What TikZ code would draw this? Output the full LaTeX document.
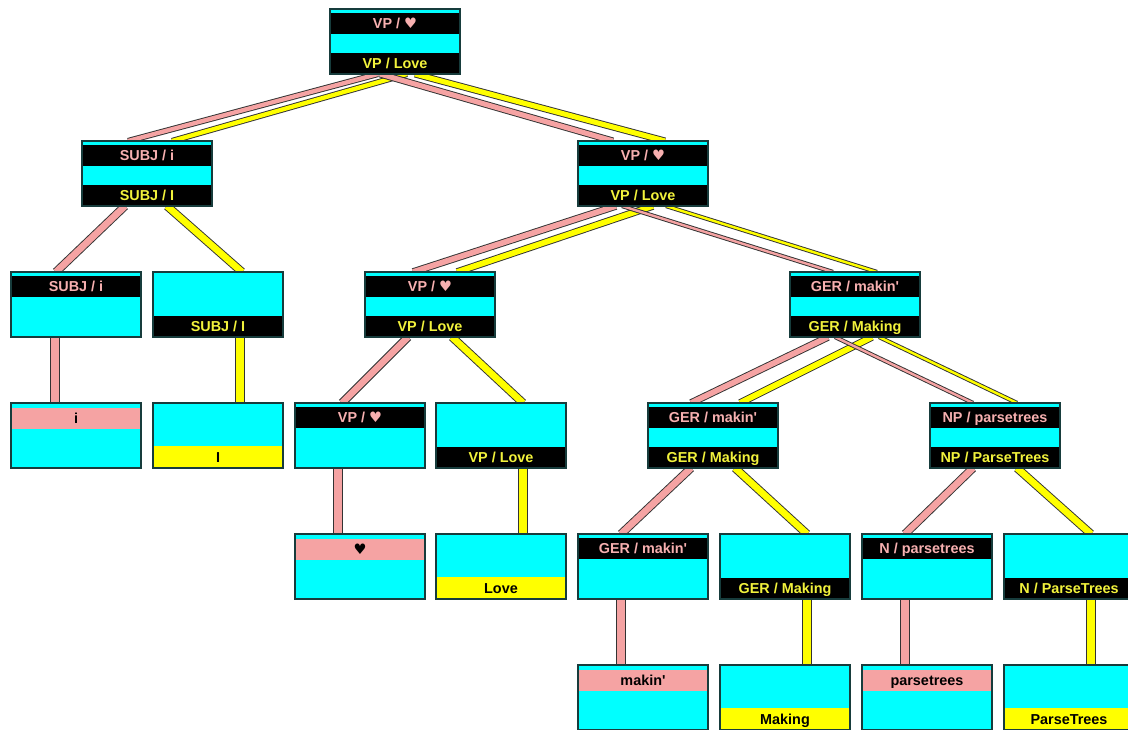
\documentclass[tikz,border=0pt]{standalone}
\usepackage{fontspec}
\setmainfont{Liberation Sans}
\newfontfamily\symfont{DejaVu Sans}
\usetikzlibrary{calc,backgrounds}

\definecolor{boxcyan}{HTML}{00FFFF}
\definecolor{bandpink}{HTML}{F5A3A3}
\definecolor{bandyellow}{HTML}{FFFF00}
\definecolor{txtpink}{HTML}{F7B0B0}
\definecolor{txtyellow}{HTML}{F2F23C}
\definecolor{edgecol}{HTML}{173C3C}
\definecolor{wirecol}{HTML}{333333}

\tikzset{
  boxbase/.style={rectangle, fill=boxcyan, minimum width=97.5pt, minimum height=48.75pt,
    inner sep=0pt, outer sep=0pt, anchor=north west},
  boxedge/.style={draw=edgecol, line width=0.9pt},
  lbl/.style={inner sep=0pt, text height=7.8pt, text depth=0pt,
    font=\fontsize{10.8pt}{12pt}\selectfont\bfseries},
  wirepink/.style={draw=wirecol, line width=0.7pt, double=bandpink, double distance=#1},
  wirepink/.default=3pt,
  wireyellow/.style={draw=wirecol, line width=0.7pt, double=bandyellow, double distance=#1},
  wireyellow/.default=3pt,
}

\newcommand\heart{{\symfont\bfseries ♥}}
% a cyan box with its name
\newcommand\mkbox[3]{\node[boxbase] (#1) at (#2,#3) {};}
% black band at the top, pink label
\newcommand\bandTop[2]{%
  \fill[black] ($(#1.north west)+(0,4)$) rectangle ($(#1.north east)+(0,25)$);
  \node[lbl, text=txtpink] (#1-up) at ($(#1.north)+(0,14.5)$) {#2};}
% black band at the bottom, yellow label
\newcommand\bandBot[2]{%
  \fill[black] ($(#1.south west)+(0,-21)$) rectangle (#1.south east);
  \node[lbl, text=txtyellow] (#1-down) at ($(#1.south)+(0,-10.5)$) {#2};}
% pink leaf band near the top
\newcommand\leafPink[2]{%
  \fill[bandpink] ($(#1.north west)+(0,5)$) rectangle ($(#1.north east)+(0,26)$);
  \node[lbl, text=black] (#1-up) at ($(#1.north)+(0,15.5)$) {#2};}
% yellow leaf band at the bottom
\newcommand\leafYellow[2]{%
  \fill[bandyellow] ($(#1.south west)+(0,-22)$) rectangle (#1.south east);
  \node[lbl, text=black] (#1-down) at ($(#1.south)+(0,-11)$) {#2};}
\newcommand\frameBox[1]{\draw[boxedge] (#1.north west) rectangle (#1.south east);}

\begin{document}
\begin{tikzpicture}[x=0.75pt, y=-0.75pt]
\path[use as bounding box] (0,0) rectangle (1128,730);
\clip (0,0) rectangle (1128,730);

% ---- boxes ----
\mkbox{top}{330}{9}
\mkbox{subjA}{82}{141}
\mkbox{vpA}{578}{141}
\mkbox{subjB}{11}{272}
\mkbox{subjC}{153}{272}
\mkbox{vpB}{365}{272}
\mkbox{gerB}{790}{272}
\mkbox{lfi}{11}{403}
\mkbox{lfI}{153}{403}
\mkbox{vpC}{295}{403}
\mkbox{vpD}{436}{403}
\mkbox{gerC}{648}{403}
\mkbox{npC}{930}{403}
\mkbox{lfheart}{295}{534}
\mkbox{lflove}{436}{534}
\mkbox{gerD}{578}{534}
\mkbox{gerE}{720}{534}
\mkbox{nD}{862}{534}
\mkbox{nE}{1004}{534}
\mkbox{lfmakin}{578}{665}
\mkbox{lfmaking}{720}{665}
\mkbox{lfparse}{862}{665}
\mkbox{lfParse}{1004}{665}

% ---- bands and labels ----
\bandTop{top}{VP / \heart}\bandBot{top}{VP / Love}
\bandTop{subjA}{SUBJ / i}\bandBot{subjA}{SUBJ / I}
\bandTop{vpA}{VP / \heart}\bandBot{vpA}{VP / Love}
\bandTop{subjB}{SUBJ / i}
\bandBot{subjC}{SUBJ / I}
\bandTop{vpB}{VP / \heart}\bandBot{vpB}{VP / Love}
\bandTop{gerB}{GER / makin\textquotesingle}\bandBot{gerB}{GER / Making}
\leafPink{lfi}{i}
\leafYellow{lfI}{I}
\bandTop{vpC}{VP / \heart}
\bandBot{vpD}{VP / Love}
\bandTop{gerC}{GER / makin\textquotesingle}\bandBot{gerC}{GER / Making}
\bandTop{npC}{NP / parsetrees}\bandBot{npC}{NP / ParseTrees}
\leafPink{lfheart}{{\color{black}\heart}}
\leafYellow{lflove}{Love}
\bandTop{gerD}{GER / makin\textquotesingle}
\bandBot{gerE}{GER / Making}
\bandTop{nD}{N / parsetrees}
\bandBot{nE}{N / ParseTrees}
\leafPink{lfmakin}{makin\textquotesingle}
\leafYellow{lfmaking}{Making}
\leafPink{lfparse}{parsetrees}
\leafYellow{lfParse}{ParseTrees}

\foreach \b in {top,subjA,vpA,subjB,subjC,vpB,gerB,lfi,lfI,vpC,vpD,gerC,npC,
  lfheart,lflove,gerD,gerE,nD,nE,lfmakin,lfmaking,lfparse,lfParse}{\frameBox{\b}}

% ---- white page and connectors, behind the boxes ----
\begin{scope}[on background layer]
  \fill[white] (0,0) rectangle (1128,730);

  \draw[wirepink=3.2pt]   ($(top.south)+(-17,0)$) -- ($(subjA.north)+(-19,0)$);
  \draw[wireyellow=3.2pt] ($(top.south)+(12,0)$)  -- ($(subjA.north)+(25,0)$);
  \draw[wirepink=3.8pt]   ($(top.south)+(-15,0)$) -- ($(vpA.north)+(-30,0)$);
  \draw[wireyellow=3.8pt] ($(top.south)+(20,0)$)  -- ($(vpA.north)+(22,0)$);

  \draw[wirepink=5pt]   ($(subjA.south)+(-22,0)$) -- ($(subjB.north)+(-20,0)$);
  \draw[wireyellow=5pt] ($(subjA.south)+(20,0)$)  -- ($(subjC.north)+(24,0)$);

  \draw[wirepink=4.2pt]   ($(vpA.south)+(-27,0)$) -- ($(vpB.north)+(-17,0)$);
  \draw[wireyellow=4.2pt] ($(vpA.south)+(10,0)$)  -- ($(vpB.north)+(27,0)$);
  \draw[wirepink=1.8pt]   ($(vpA.south)+(-21,0)$) -- ($(gerB.north)+(-22,0)$);
  \draw[wireyellow=1.8pt] ($(vpA.south)+(23,0)$)  -- ($(gerB.north)+(22,0)$);

  \draw[wirepink=5.5pt]   ($(subjB.south)+(-21,0)$) -- ($(lfi.north)+(-21,0)$);
  \draw[wireyellow=5.5pt] ($(subjC.south)+(22,0)$)  -- ($(lfI.north)+(22,0)$);

  \draw[wirepink=5pt]   ($(vpB.south)+(-22,0)$) -- ($(vpC.north)+(-18,0)$);
  \draw[wireyellow=5pt] ($(vpB.south)+(22,0)$)  -- ($(vpD.north)+(22,0)$);

  \draw[wirepink=4.2pt]   ($(gerB.south)+(-27,0)$) -- ($(gerC.north)+(-22,0)$);
  \draw[wireyellow=4.2pt] ($(gerB.south)+(17,0)$)  -- ($(gerC.north)+(27,0)$);
  \draw[wirepink=1.8pt]   ($(gerB.south)+(-20,0)$) -- ($(npC.north)+(-22,0)$);
  \draw[wireyellow=1.8pt] ($(gerB.south)+(24,0)$)  -- ($(npC.north)+(22,0)$);

  \draw[wirepink=5.5pt]   ($(vpC.south)+(-22,0)$) -- ($(lfheart.north)+(-22,0)$);
  \draw[wireyellow=5.5pt] ($(vpD.south)+(22,0)$)  -- ($(lflove.north)+(22,0)$);

  \draw[wirepink=5pt]   ($(gerC.south)+(-22,0)$) -- ($(gerD.north)+(-22,0)$);
  \draw[wireyellow=5pt] ($(gerC.south)+(22,0)$)  -- ($(gerE.north)+(22,0)$);
  \draw[wirepink=5pt]   ($(npC.south)+(-22,0)$) -- ($(nD.north)+(-22,0)$);
  \draw[wireyellow=5pt] ($(npC.south)+(22,0)$)  -- ($(nE.north)+(22,0)$);

  \draw[wirepink=5.5pt]   ($(gerD.south)+(-22,0)$) -- ($(lfmakin.north)+(-22,0)$);
  \draw[wireyellow=5.5pt] ($(gerE.south)+(22,0)$)  -- ($(lfmaking.north)+(22,0)$);
  \draw[wirepink=5.5pt]   ($(nD.south)+(-22,0)$) -- ($(lfparse.north)+(-22,0)$);
  \draw[wireyellow=5.5pt] ($(nE.south)+(22,0)$)  -- ($(lfParse.north)+(22,0)$);
\end{scope}
\end{tikzpicture}
\end{document}
